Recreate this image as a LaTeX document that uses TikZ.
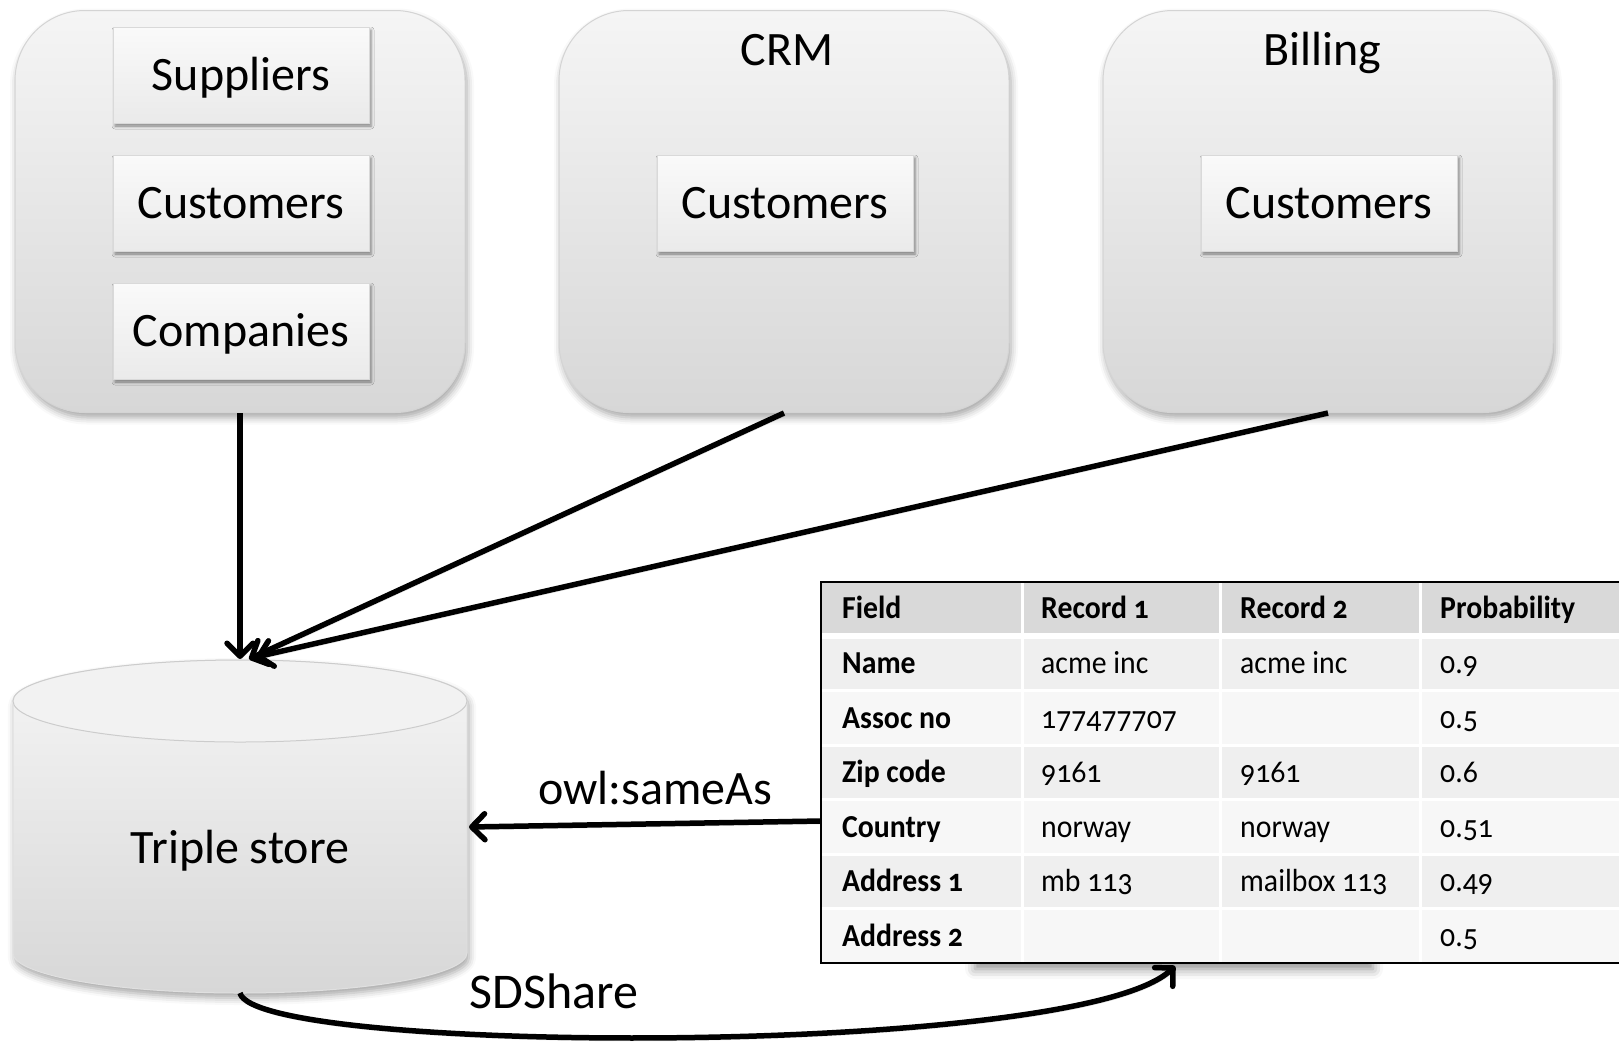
\documentclass[tikz,border=0pt]{standalone}
\usepackage{fontspec}
\setmainfont{Carlito}
\newfontfamily\tabfont{Carlito}[Numbers=OldStyle, FakeStretch=0.93]
\usetikzlibrary{arrows.meta,shadows.blur}

\definecolor{boxtop}{HTML}{F5F5F5}
\definecolor{boxbot}{HTML}{D7D7D7}
\definecolor{cardtop}{HTML}{FAFAFA}
\definecolor{cardbot}{HTML}{EAEAEA}
\definecolor{hdrfill}{HTML}{D9D9D9}
\definecolor{rowa}{HTML}{EFEFEF}
\definecolor{rowb}{HTML}{F7F7F7}

\begin{document}
\begin{tikzpicture}[x=1pt,y=-1pt,
  big/.style={font=\fontsize{48}{56}\selectfont, text height=34pt, text depth=3pt, inner sep=0pt},
  sysbox/.style={draw=black!17, line width=1pt, rounded corners=70pt,
    top color=boxtop, bottom color=boxbot,
    minimum width=450pt, minimum height=402pt, inner sep=0pt,
    blur shadow={shadow xshift=2pt, shadow yshift=-5pt, shadow blur radius=7pt, shadow opacity=35}},
  card/.style={draw=black!15, line width=1pt, top color=cardtop, bottom color=cardbot,
    minimum width=256pt, minimum height=96pt, inner sep=0pt, big,
    blur shadow={shadow xshift=2pt, shadow yshift=-3pt, shadow blur radius=3pt, shadow opacity=45}},
  link/.style={line width=5.5pt, -{Straight Barb[length=13pt,width=26pt,round]},
    preaction={draw=black, draw opacity=0.12, transform canvas={xshift=1pt, yshift=-3pt}}},
  cell/.style={anchor=west, inner sep=0pt, font=\tabfont\fontsize{32}{36}\selectfont, text height=21pt, text depth=2pt},
  hcell/.style={cell, font=\tabfont\bfseries\fontsize{32}{36}\selectfont},
]
\useasboundingbox (0,0) rectangle (1619,1042);

% source systems
\node[sysbox] (srcA) at (240,211.5) {};
\node[sysbox] (crm) at (784,211.5) {};
\node[sysbox] (billing) at (1328,211.5) {};

\node[card] (suppliers) at (241,75) {Suppliers};
\node[card] (customersA) at (241,203) {Customers};
\node[card] (companies) at (241,331) {Companies};

\node[big] (crmlabel) at (787,50) {CRM};
\node[card] (customersB) at (785,203) {Customers};

\node[big] (billinglabel) at (1322,50) {Billing};
\node[card] (customersC) at (1329,203) {Customers};

% triple store cylinder
\path[top color=boxtop, bottom color=boxbot, draw=black!12, line width=1pt,
      blur shadow={shadow xshift=2pt, shadow yshift=-5pt, shadow blur radius=7pt, shadow opacity=35}]
  (13,701) -- (13,953) arc[start angle=180, end angle=360, x radius=227pt, y radius=40pt]
  -- (467,701) arc[start angle=0, end angle=180, x radius=227pt, y radius=41pt] -- cycle;
\draw[fill=black!5, draw=black!20, line width=1pt] (240,701) ellipse [x radius=227pt, y radius=41pt];
\node[big] (store) at (240,848) {Triple store};

\coordinate (storeTopA) at (240,659);
\coordinate (storeTopB) at (249,659);
\coordinate (storeTopC) at (256,657);
\coordinate (storeE) at (469,827);
\coordinate (storeB) at (240,993);

% arrows into the store
\draw[link] (srcA.south) -- (storeTopA);
\draw[link] (crm.south) -- (storeTopB);
\draw[link] (billing.south) -- (storeTopC);

% soft shadow peeking out under the table
\fill[white, blur shadow={shadow xshift=0pt, shadow yshift=-7pt, shadow blur radius=10pt, shadow opacity=45}]
  (975,900) rectangle (1373,962);

% match table
\fill[hdrfill] (821,582) rectangle (1630,636);
\fill[rowa] (821,636) rectangle (1630,690.5);
\fill[rowb] (821,690.5) rectangle (1630,745);
\fill[rowa] (821,745) rectangle (1630,799.5);
\fill[rowb] (821,799.5) rectangle (1630,854);
\fill[rowa] (821,854) rectangle (1630,908.5);
\fill[rowb] (821,908.5) rectangle (1630,963);
\draw[white, line width=6pt] (821,636) -- (1630,636);
\foreach \yy in {690.5,745,799.5,854,908.5}
  \draw[white, line width=3pt] (821,\yy) -- (1630,\yy);
\foreach \xx in {1022,1220,1420}
  \draw[white, line width=3pt] (\xx,582) -- (\xx,963);
\draw[line width=2.5pt] (1630,582) -- (821,582) -- (821,963) -- (1630,963);

\node[hcell] (hField) at (842,609) {Field};
\node[hcell] (hRecA) at (1041,609) {Record 1};
\node[hcell] (hRecB) at (1240,609) {Record 2};
\node[hcell] (hProb) at (1440,609) {Probability};

\node[hcell] (fName) at (842,664) {Name};
\node[cell] (aName) at (1041,664) {acme inc};
\node[cell] (bName) at (1240,664) {acme inc};
\node[cell] (pName) at (1440,664) {0.9};

\node[hcell] (fAssoc) at (842,718.5) {Assoc no};
\node[cell] (aAssoc) at (1041,718.5) {177477707};
\node[cell] (pAssoc) at (1440,718.5) {0.5};

\node[hcell] (fZip) at (842,773) {Zip code};
\node[cell] (aZip) at (1041,773) {9161};
\node[cell] (bZip) at (1240,773) {9161};
\node[cell] (pZip) at (1440,773) {0.6};

\node[hcell] (fCountry) at (842,827.5) {Country};
\node[cell] (aCountry) at (1041,827.5) {norway};
\node[cell] (bCountry) at (1240,827.5) {norway};
\node[cell] (pCountry) at (1440,827.5) {0.51};

\node[hcell] (fAddrA) at (842,882) {Address 1};
\node[cell] (aAddrA) at (1041,882) {mb 113};
\node[cell] (bAddrA) at (1240,882) {mailbox 113};
\node[cell] (pAddrA) at (1440,882) {0.49};

\node[hcell] (fAddrB) at (842,936.5) {Address 2};
\node[cell] (pAddrB) at (1440,936.5) {0.5};

\coordinate (tblW) at (821,821);
\coordinate (tblB) at (1175,966);

% owl:sameAs back into the store
\draw[link] (tblW) -- (storeE);
\node[big] (sameas) at (655,789) {owl:sameAs};

% SDShare feed from the store to the table
\draw[link] (storeB) .. controls (255,1055) and (1080,1058) .. (tblB);
\node[big, font=\fontsize{50}{58}\selectfont] (sdshare) at (554,993) {SDShare};
\end{tikzpicture}
\end{document}
